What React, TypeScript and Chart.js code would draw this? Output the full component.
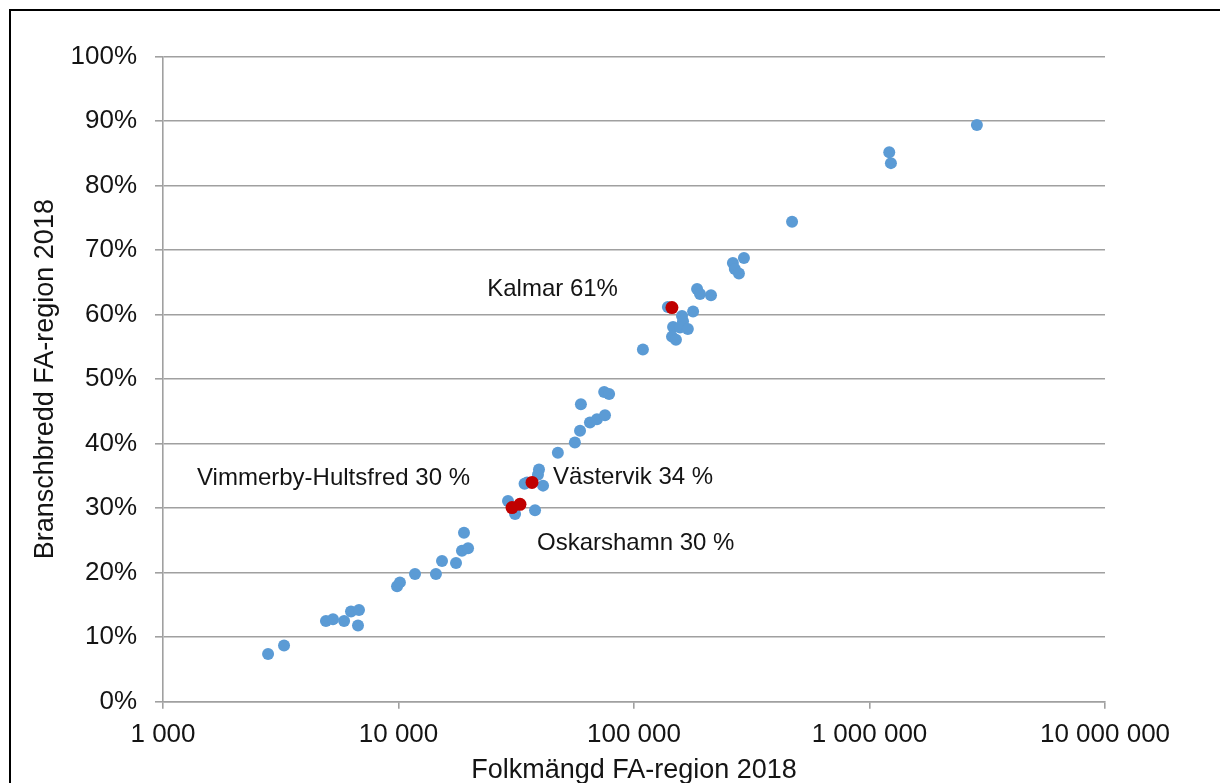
import React, { useEffect, useRef } from "react";
import { Chart, registerables } from "chart.js";

Chart.register(...registerables);

// Folkmängd (population) per FA-region 2018
const blueX = [
  2794, 3266, 4920, 5270, 5875, 6285, 6795, 6730,
  9860, 10140, 11750, 14420, 15300, 17550, 18600, 19740, 18970,
  29170, 31260, 38000, 35150, 39500, 41100, 39100, 34300,
  47500, 56100, 59000, 59500, 65000, 69600, 75300, 74700, 78400,
  109100, 139300, 185300, 190700, 212300, 178200, 159900, 161500, 146500, 156800, 169300, 145000, 150700,
  263000, 293000, 268000, 279000, 469000, 1213000, 1233000, 2858000,
];
// Branschbredd (%) per FA-region 2018
const blueY = [
  7.4, 8.7, 12.5, 12.8, 12.5, 14.0, 14.2, 11.8,
  17.9, 18.5, 19.8, 19.8, 21.8, 21.5, 23.4, 23.8, 26.2,
  31.1, 29.1, 29.7, 34.0, 36.0, 33.5, 35.2, 33.8,
  38.6, 40.2, 42.0, 46.1, 43.3, 43.8, 44.4, 48.0, 47.7,
  54.6, 61.2, 64.0, 63.2, 63.0, 60.5, 59.8, 59.0, 58.1, 58.0, 57.8, 56.6, 56.1,
  68.0, 68.8, 67.1, 66.4, 74.4, 85.2, 83.5, 89.4,
];

const redNames = ["Kalmar 61%", "Vimmerby-Hultsfred 30 %", "Västervik 34 %", "Oskarshamn 30 %"];
const redX = [144900, 30340, 36900, 32800];
const redY = [61.1, 30.1, 34.0, 30.6];

const xTicks = [1000, 10000, 100000, 1000000, 10000000];
const yTickStep = 10;

// label placement relative to the highlighted point (pixels)
const labelPlacement = [
  { dx: -54, dy: -12, align: "right" },
  { dx: -42, dy: -23, align: "right" },
  { dx: 21, dy: 2, align: "left" },
  { dx: 17, dy: 46, align: "left" },
];

const FONT = "'Liberation Sans', Arial, sans-serif";
const TEXT = "#141414";
const GRID = "#a0a0a0";

const fmt = (v: number) => String(v).replace(/\B(?=(\d{3})+(?!\d))/g, " ");

const labelPlugin = {
  id: "redLabels",
  afterDatasetsDraw(chart: any) {
    const ctx = chart.ctx;
    const xs = chart.scales.x;
    const ys = chart.scales.y;
    ctx.save();
    ctx.font = `24px ${FONT}`;
    ctx.fillStyle = TEXT;
    ctx.textBaseline = "alphabetic";
    redNames.forEach((name, i) => {
      const px = xs.getPixelForValue(redX[i]);
      const py = ys.getPixelForValue(redY[i]);
      const p = labelPlacement[i];
      ctx.textAlign = p.align;
      ctx.fillText(name, px + p.dx, py + p.dy);
    });
    ctx.restore();
  },
};

export default function App() {
  const ref = useRef<HTMLCanvasElement | null>(null);

  useEffect(() => {
    if (!ref.current) return;
    const chart = new Chart(ref.current, {
      type: "scatter",
      data: {
        datasets: [
          {
            label: "Markerade",
            data: redX.map((x, i) => ({ x, y: redY[i] })),
            backgroundColor: "#c00000",
            borderWidth: 0,
            pointRadius: 6.5,
            order: 0,
          },
          {
            label: "FA-regioner",
            data: blueX.map((x, i) => ({ x, y: blueY[i] })),
            backgroundColor: "#5b9bd5",
            borderWidth: 0,
            pointRadius: 6,
            order: 1,
          },
        ],
      },
      plugins: [labelPlugin],
      options: {
        animation: false,
        responsive: false,
        devicePixelRatio: 1,
        layout: { padding: { left: 0, top: 56.7, right: 115, bottom: 0 } },
        plugins: { legend: { display: false }, tooltip: { enabled: false } },
        scales: {
          x: {
            type: "logarithmic",
            min: 1000,
            max: 10000000,
            afterBuildTicks: (scale: any) => {
              scale.ticks = xTicks.map((v) => ({ value: v, major: true }));
            },
            afterFit: (scale: any) => {
              scale.height = 81.3;
            },
            grid: { display: true, drawOnChartArea: false, drawTicks: true, tickLength: 7, color: GRID, lineWidth: 1.6 },
            border: { display: true, color: GRID, width: 1.6 },
            ticks: {
              autoSkip: false,
              maxRotation: 0,
              padding: 11,
              color: TEXT,
              font: { family: FONT, size: 26 },
              callback: (v: any) => fmt(Number(v)),
            },
            title: {
              display: true,
              text: "Folkmängd FA-region 2018",
              color: TEXT,
              font: { family: FONT, size: 27, lineHeight: 1 },
              padding: { top: 0, bottom: -1 },
            },
          },
          y: {
            type: "linear",
            min: 0,
            max: 100,
            afterFit: (scale: any) => {
              scale.width = 163;
            },
            grid: { display: true, drawOnChartArea: true, drawTicks: true, tickLength: 8, color: GRID, lineWidth: 1.6 },
            border: { display: true, color: GRID, width: 1.6 },
            ticks: {
              stepSize: yTickStep,
              padding: 18,
              color: TEXT,
              font: { family: FONT, size: 26 },
              callback: (v: any) => `${v}%`,
            },
            title: {
              display: true,
              text: "Branschbredd FA-region 2018",
              color: TEXT,
              font: { family: FONT, size: 27, lineHeight: 1 },
              padding: { top: 32.5, bottom: 0 },
            },
          },
        },
      },
    } as any);
    return () => chart.destroy();
  }, []);

  return (
    <div style={{ position: "fixed", left: 0, top: 0, width: 1220, height: 783, background: "#fff", overflow: "hidden" }}>
      <canvas ref={ref} width={1220} height={783} style={{ position: "absolute", left: 0, top: 0, width: 1220, height: 783 }} />
      <div
        style={{
          position: "absolute",
          left: 9,
          top: 9,
          right: 0,
          bottom: 0,
          borderTop: "2px solid #000",
          borderLeft: "2px solid #000",
          pointerEvents: "none",
        }}
      />
    </div>
  );
}
